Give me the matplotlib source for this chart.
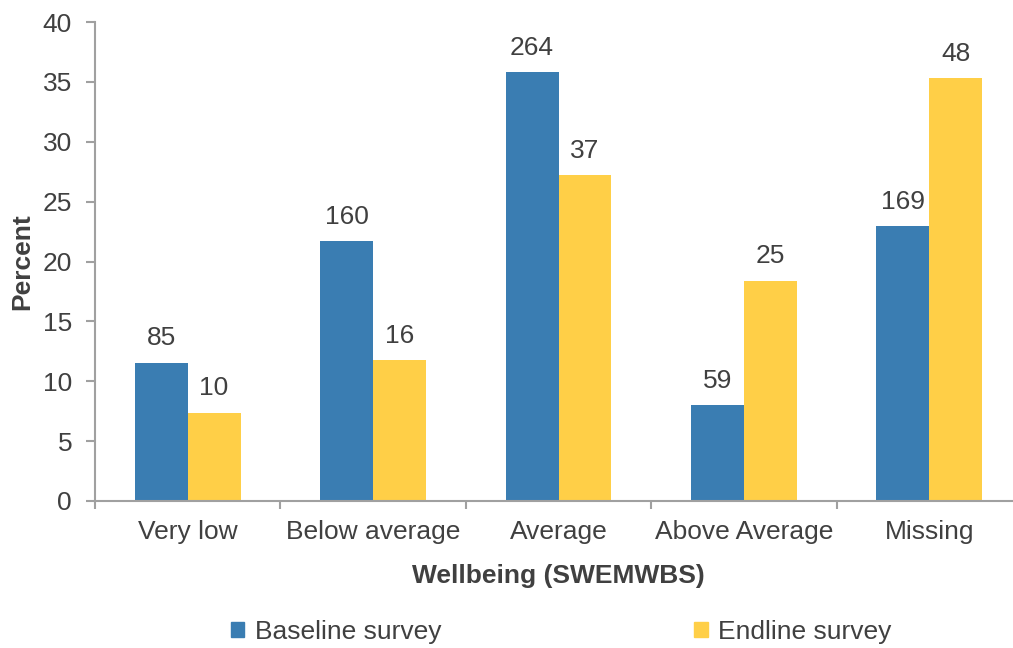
import matplotlib
matplotlib.use("Agg")
import matplotlib.pyplot as plt
from matplotlib.patches import Patch
import numpy as np

plt.rcParams['font.family'] = ['Liberation Sans', 'DejaVu Sans']

categories = ["Very low", "Below average", "Average", "Above Average", "Missing"]
baseline_n = [85, 160, 264, 59, 169]
endline_n = [10, 16, 37, 25, 48]
series_names = ["Baseline survey", "Endline survey"]
y_ticks = [0, 5, 10, 15, 20, 25, 30, 35, 40]

baseline_pct = [100 * v / sum(baseline_n) for v in baseline_n]
endline_pct = [100 * v / sum(endline_n) for v in endline_n]

BLUE = "#3A7DB2"
YELLOW = "#FFCF47"
TEXT = "#404040"
AXIS = "#A0A0A0"
FS = 19

fig = plt.figure(figsize=(10.13, 6.48), dpi=100)
ax = fig.add_axes([95 / 1013, 1 - 501 / 648, (1022 - 95) / 1013, (501 - 22) / 648])

x = np.arange(len(categories))
w = 0.285
b1 = ax.bar(x - w / 2, baseline_pct, w, color=BLUE)
b2 = ax.bar(x + w / 2, endline_pct, w, color=YELLOW)

for bars, counts in ((b1, baseline_n), (b2, endline_n)):
    for r, n in zip(bars, counts):
        ax.annotate(str(n), (r.get_x() + r.get_width() / 2, r.get_height()),
                    xytext=(0, 9), textcoords="offset points",
                    ha="center", va="bottom", fontsize=FS, color=TEXT)

ax.set_xlim(-0.5, len(categories) - 0.5)
ax.set_ylim(0, 40)
ax.set_yticks(y_ticks)
ax.set_xticks(x)
ax.set_xticklabels(categories)
ax.set_xticks(np.arange(len(categories) + 1) - 0.5, minor=True)

ax.tick_params(axis="y", direction="out", length=6.5, width=1.5, color=AXIS,
               labelsize=FS, labelcolor=TEXT, pad=10)
ax.tick_params(axis="x", which="major", length=0, labelsize=FS,
               labelcolor=TEXT, pad=14)
ax.tick_params(axis="x", which="minor", direction="out", length=5.5,
               width=1.5, color=AXIS)

for s in ("top", "right"):
    ax.spines[s].set_visible(False)
for s in ("left", "bottom"):
    ax.spines[s].set_color(AXIS)
    ax.spines[s].set_linewidth(1.5)

ax.set_xlabel("Wellbeing (SWEMWBS)", fontsize=FS, fontweight="bold",
              color=TEXT, labelpad=14)
ax.set_ylabel("Percent", fontsize=FS, fontweight="bold", color=TEXT,
              labelpad=6)

handles = [Patch(color=BLUE), Patch(color=YELLOW)]
fig.legend(handles, series_names, loc="center", ncol=2,
           bbox_to_anchor=(0.554, 1 - 632 / 648), frameon=False,
           fontsize=FS, labelcolor=TEXT, handlelength=0.5,
           handleheight=0.5, handletextpad=0.4, columnspacing=9.6)

fig.savefig("out.png", dpi=100)
